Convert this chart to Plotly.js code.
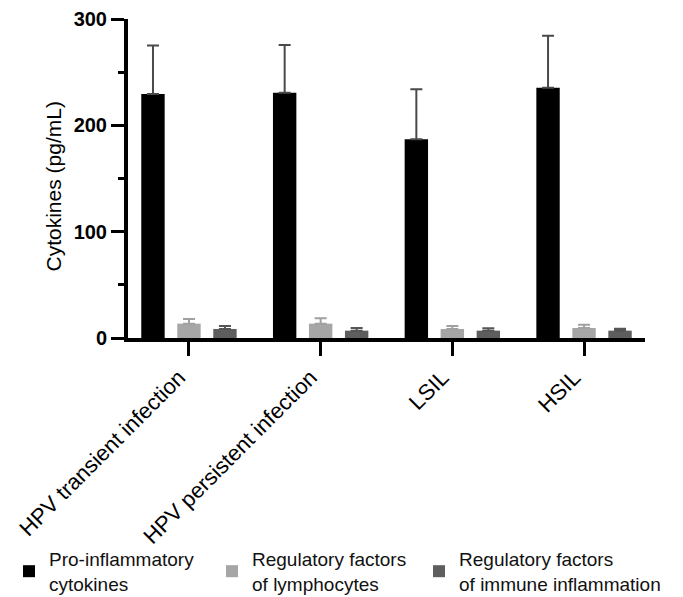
<!DOCTYPE html>
<html>
<head>
<meta charset="utf-8">
<script src="https://cdn.plot.ly/plotly-3.0.1.min.js"></script>
<style>html,body{margin:0;padding:0;background:#fff;}#chart{width:683px;height:597px;}</style>
</head>
<body>
<div id="chart"></div>
<script>
const categories = ["HPV transient infection", "HPV persistent infection", "LSIL", "HSIL"];
const seriesNames = ["Pro-inflammatory<br>cytokines", "Regulatory factors<br>of lymphocytes", "Regulatory factors<br>of immune inflammation"];
const proInflammatory = [229.5, 230.7, 186.9, 235.4];
const proInflammatorySD = [45.5, 44.9, 47.0, 48.9];
const lymphocyteFactors = [13.5, 13.5, 8.5, 9.4];
const lymphocyteFactorsSD = [4.4, 5.0, 2.8, 3.1];
const immuneFactors = [8.5, 6.9, 6.9, 6.9];
const immuneFactorsSD = [2.8, 2.5, 2.2, 1.9];
const yTicks = [0, 100, 200, 300];
const yTitle = 'Cytokines (pg/mL)';

const font = "Arial, 'Liberation Sans', Helvetica, sans-serif";

function barTrace(name, values, sd, color, errColor, legendId) {
  return {
    type: 'bar',
    name: name,
    legend: legendId,
    x: categories,
    y: values,
    marker: {color: color, line: {width: 0}},
    error_y: {type: 'data', symmetric: false, array: sd, arrayminus: sd.map(() => 0),
              color: errColor, thickness: 2, width: 6},
    hoverinfo: 'skip'
  };
}

const data = [
  barTrace(seriesNames[0], proInflammatory, proInflammatorySD, '#000000', '#4a4a4a', 'legend'),
  barTrace(seriesNames[1], lymphocyteFactors, lymphocyteFactorsSD, '#a6a6a6', '#a0a0a0', 'legend2'),
  barTrace(seriesNames[2], immuneFactors, immuneFactorsSD, '#5e5e5e', '#555555', 'legend3')
];

function legendAt(xPos) {
  return {
    orientation: 'v', xref: 'container', yref: 'container',
    x: xPos, xanchor: 'left', y: 0.0955, yanchor: 'top',
    font: {family: font, size: 19, color: '#111'},
    bgcolor: 'rgba(0,0,0,0)',
    itemclick: false, itemdoubleclick: false
  };
}

const layout = {
  width: 683, height: 597,
  margin: {l: 128, r: 38, t: 19, b: 259, pad: 0, autoexpand: false},
  paper_bgcolor: '#ffffff', plot_bgcolor: '#ffffff',
  font: {family: font, color: '#000'},
  barmode: 'group',
  bargap: 0.18,
  bargroupgap: 0.35,
  showlegend: true,
  legend: legendAt(0.0132),
  legend2: legendAt(0.3104),
  legend3: legendAt(0.6135),
  annotations: [{
    text: yTitle, xref: 'paper', yref: 'paper',
    x: -0.145, y: 0.475, xanchor: 'center', yanchor: 'middle',
    textangle: -90, showarrow: false,
    font: {family: font, size: 21, color: '#000'}
  }],
  xaxis: {
    type: 'category',
    range: [-0.463, 3.463],
    showgrid: false, zeroline: false,
    showline: true, linecolor: '#000', linewidth: 4,
    ticks: 'outside', ticklen: 14, tickwidth: 3, tickcolor: '#000',
    tickangle: -45,
    ticklabelshift: -10,
    tickfont: {family: font, size: 22, color: '#000'},
    automargin: false,
    fixedrange: true
  },
  yaxis: {
    range: [0, 300],
    tickvals: yTicks,
    ticktext: yTicks.map(String),
    showgrid: false, zeroline: false,
    showline: true, linecolor: '#000', linewidth: 4,
    ticks: 'outside', ticklen: 13, tickwidth: 3, tickcolor: '#000',
    tickfont: {family: font, size: 20, color: '#000', weight: 'bold'},
    minor: {dtick: 50, tick0: 0, ticks: 'outside', ticklen: 6, tickwidth: 3, tickcolor: '#000', showgrid: false},
    automargin: false,
    fixedrange: true
  }
};

Plotly.newPlot('chart', data, layout, {displayModeBar: false, staticPlot: true});
</script>
</body>
</html>
